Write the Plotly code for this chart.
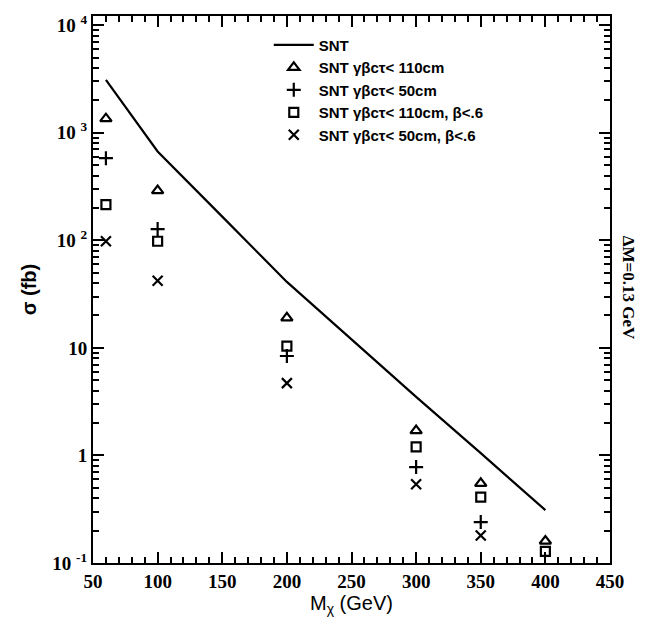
import plotly.graph_objects as go

# ---- data ----
line_mass = [60, 100, 150, 200, 250, 300, 350, 400]
snt = [3100, 670, 166, 41, 12, 3.5, 1.05, 0.31]

pt_mass = [60, 100, 200, 300, 350, 400]
snt_110 = [1350, 290, 19, 1.7, 0.55, 0.16]
snt_50 = [580, 127, 8.4, 0.78, 0.24, None]
snt_110_b = [215, 98, 10.4, 1.2, 0.41, 0.128]
snt_50_b = [98, 42, 4.7, 0.54, 0.18, None]

x_ticks = [50, 100, 150, 200, 250, 300, 350, 400, 450]
y_ticks = [0.1, 1, 10, 100, 1000, 10000]
y_ticktext = ["10 <sup>-1</sup>", "1", "10", "10 <sup>2</sup>", "10 <sup>3</sup>", "10 <sup>4</sup>"]
y_minor = [m * 10 ** e for e in range(-1, 4) for m in range(2, 10)]

sans = "Liberation Sans, Arial, sans-serif"
serif = "Liberation Serif, Times New Roman, serif"

fig = go.Figure()
fig.add_trace(go.Scatter(x=line_mass, y=snt, mode="lines", name="SNT",
                         line=dict(color="black", width=2.2)))
series = [
    ("SNT γβcτ< 110cm", snt_110, "triangle-up-open", 10),
    ("SNT γβcτ< 50cm", snt_50, "cross-thin-open", 10),
    ("SNT γβcτ< 110cm, β<.6", snt_110_b, "square-open", 9),
    ("SNT γβcτ< 50cm, β<.6", snt_50_b, "x-thin-open", 10),
]
for name, vals, sym, size in series:
    fig.add_trace(go.Scatter(x=pt_mass, y=vals, mode="markers", name=name,
                             marker=dict(symbol=sym, size=size, color="black",
                                         line=dict(color="black", width=2.2))))

fig.update_layout(
    width=648, height=633,
    margin=dict(l=93, r=38, t=14, b=70),
    paper_bgcolor="white", plot_bgcolor="white",
    showlegend=True,
    legend=dict(x=0.34, y=0.977, xanchor="left", yanchor="top",
                bgcolor="rgba(0,0,0,0)",
                font=dict(family=sans, size=15, color="black", weight="bold"),
                tracegroupgap=0, itemwidth=40),
    font=dict(family=sans, color="black"),
)
fig.update_xaxes(
    range=[50, 450], tickvals=x_ticks, ticks="inside", ticklen=11, tickwidth=1.5,
    tickcolor="black", showline=True, linecolor="black", linewidth=2, mirror="ticks",
    showgrid=False, zeroline=False,
    tickfont=dict(family=serif, size=19, color="black", weight="bold"),
    minor=dict(dtick=10, ticks="inside", ticklen=6, tickwidth=1.5, tickcolor="black", showgrid=False),
    title=dict(text="M<sub>χ</sub> (GeV)", font=dict(family=sans, size=20, color="black"), standoff=4),
)
fig.update_yaxes(
    type="log", range=[-1, 4.085], tickvals=y_ticks, ticktext=y_ticktext,
    ticks="inside", ticklen=11, tickwidth=1.5, tickcolor="black",
    showline=True, linecolor="black", linewidth=2, mirror="ticks",
    showgrid=False, zeroline=False,
    tickfont=dict(family=serif, size=19, color="black", weight="bold"),
    minor=dict(tickvals=y_minor, ticks="inside", ticklen=6, tickwidth=1.5, tickcolor="black", showgrid=False),
    title=dict(text="σ (fb)", font=dict(family=sans, size=20, color="black", weight="bold"), standoff=10),
)
fig.add_annotation(text="ΔM=0.13 GeV", xref="paper", yref="paper", x=1.035, y=0.503,
                   textangle=90, showarrow=False, xanchor="center", yanchor="middle",
                   font=dict(family=serif, size=17, color="black", weight="bold"))

fig.write_html("out.html")
